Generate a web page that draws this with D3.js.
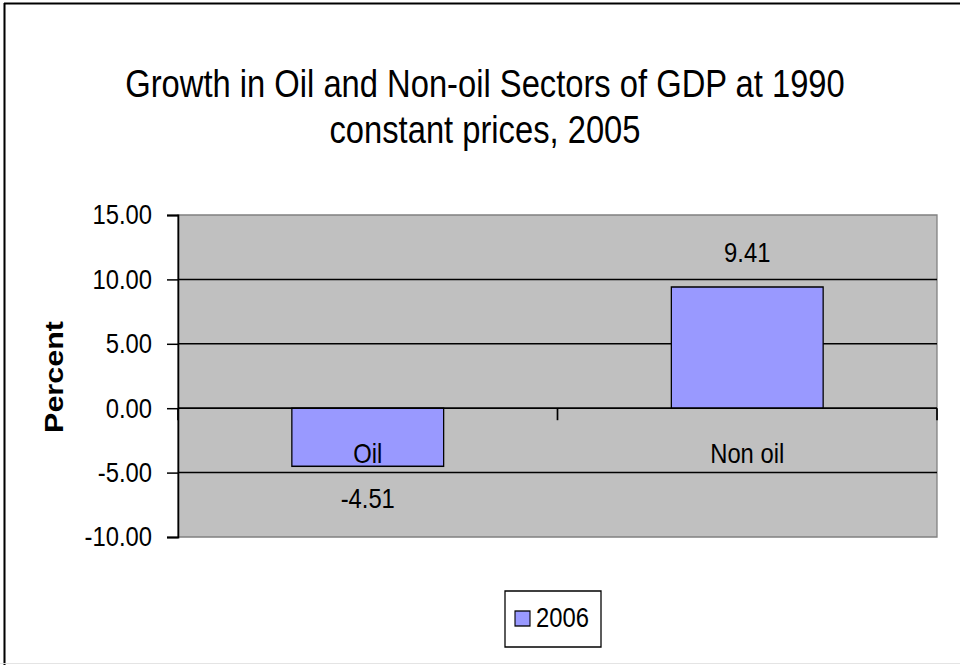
<!DOCTYPE html>
<html>
<head>
<meta charset="utf-8">
<script src="https://cdn.jsdelivr.net/npm/d3@7"></script>
<style>
  html, body { margin: 0; padding: 0; background: #fff; }
  svg { display: block; }
  text { font-family: "Liberation Sans", Arial, sans-serif; fill: #000; }
</style>
</head>
<body>
<div id="chart"></div>
<script>
// -------- Data --------
const titleLines = ["Growth in Oil and Non-oil Sectors of GDP at 1990", "constant prices, 2005"];
const categories = ["Oil", "Non oil"];
const values2006 = [-4.51, 9.41];
const seriesName = "2006";
const yTicks = [-10, -5, 0, 5, 10, 15];
const yLabel = "Percent";

// The original picture is squeezed horizontally, so draw in a wider
// coordinate space and let the viewBox squash it back to 960 px.
const K = 0.85;
const W = 960, H = 665;
const VW = W / K;
const px = x => x / K; // screen x -> viewBox x

const plot = { left: px(178), right: px(937), top: 215, bottom: 537 };

const fmt = d3.formatLocale({
  decimal: ".", thousands: ",", grouping: [3], currency: ["", ""], minus: "-"
}).format(".2f");

const svg = d3.select("#chart").append("svg")
  .attr("width", W)
  .attr("height", H)
  .attr("viewBox", `0 0 ${VW} ${H}`)
  .attr("preserveAspectRatio", "none");

// outer frame
svg.append("line").attr("x1", px(4)).attr("x2", VW).attr("y1", 3.5).attr("y2", 3.5)
  .attr("stroke", "#000").attr("stroke-width", 2);
svg.append("line").attr("x1", px(4.5)).attr("x2", px(4.5)).attr("y1", 3).attr("y2", H)
  .attr("stroke", "#000").attr("stroke-width", 2.4);
svg.append("line").attr("x1", 0).attr("x2", VW).attr("y1", 663.5).attr("y2", 663.5)
  .attr("stroke", "#e2e2e2").attr("stroke-width", 1);

// title
svg.append("g").selectAll("text")
  .data(titleLines)
  .join("text")
  .attr("x", px(485))
  .attr("y", (d, i) => 97 + i * 46)
  .attr("text-anchor", "middle")
  .attr("font-size", 38.5)
  .text(d => d);

// scales
const x = d3.scaleBand()
  .domain(categories)
  .range([plot.left, plot.right])
  .padding(0);

const y = d3.scaleLinear()
  .domain([d3.min(yTicks), d3.max(yTicks)])
  .range([plot.bottom, plot.top]);

// plot background
svg.append("rect")
  .attr("x", plot.left)
  .attr("y", plot.top)
  .attr("width", plot.right - plot.left)
  .attr("height", plot.bottom - plot.top)
  .attr("fill", "#c0c0c0")
  .attr("stroke", "#808080")
  .attr("stroke-width", 1.5);

// gridlines (interior ticks)
svg.append("g").selectAll("line")
  .data(yTicks.filter(t => t !== d3.min(yTicks) && t !== d3.max(yTicks)))
  .join("line")
  .attr("x1", plot.left)
  .attr("x2", plot.right)
  .attr("y1", d => y(d))
  .attr("y2", d => y(d))
  .attr("stroke", "#000")
  .attr("stroke-width", 1.5);

// bars
const barW = x.bandwidth() * 0.4;
svg.append("g").selectAll("rect")
  .data(categories.map((c, i) => ({ cat: c, v: values2006[i] })))
  .join("rect")
  .attr("x", d => x(d.cat) + (x.bandwidth() - barW) / 2)
  .attr("y", d => y(Math.max(0, d.v)))
  .attr("width", barW)
  .attr("height", d => Math.abs(y(d.v) - y(0)))
  .attr("fill", "#9999ff")
  .attr("stroke", "#000")
  .attr("stroke-width", 1.5);

// y axis
const yAxis = svg.append("g")
  .attr("transform", `translate(${plot.left},0)`)
  .call(d3.axisLeft(y).tickValues(yTicks).tickFormat(fmt).tickSize(px(11)).tickPadding(px(15)));
yAxis.select(".domain").attr("stroke", "#000").attr("stroke-width", 2);
yAxis.selectAll(".tick line").attr("stroke", "#000").attr("stroke-width", 1.5);
yAxis.selectAll(".tick text")
  .attr("font-family", "Liberation Sans, Arial, sans-serif")
  .attr("font-size", 28)
  .attr("fill", "#000");

// category axis along zero
svg.append("line")
  .attr("x1", plot.left).attr("x2", plot.right)
  .attr("y1", y(0)).attr("y2", y(0))
  .attr("stroke", "#000").attr("stroke-width", 1.5);

const boundaries = categories.map(c => x(c)).concat([x(categories[categories.length - 1]) + x.bandwidth()]);
svg.append("g").selectAll("line")
  .data(boundaries)
  .join("line")
  .attr("x1", d => d).attr("x2", d => d)
  .attr("y1", y(0)).attr("y2", y(0) + 12)
  .attr("stroke", "#000").attr("stroke-width", 2);

svg.append("g").selectAll("text")
  .data(categories)
  .join("text")
  .attr("x", d => x(d) + x.bandwidth() / 2)
  .attr("y", y(0) + 55)
  .attr("text-anchor", "middle")
  .attr("font-size", 28)
  .text(d => d);

// data labels
svg.append("g").selectAll("text")
  .data(categories.map((c, i) => ({ cat: c, v: values2006[i] })))
  .join("text")
  .attr("x", d => x(d.cat) + x.bandwidth() / 2)
  .attr("y", d => d.v >= 0 ? y(d.v) - 25 : y(d.v) + 42)
  .attr("text-anchor", "middle")
  .attr("font-size", 28)
  .text(d => fmt(d.v));

// y axis title
svg.append("text")
  .attr("transform", `translate(${px(63)},${377}) rotate(-90)`)
  .attr("text-anchor", "middle")
  .attr("font-size", 30.5)
  .attr("font-weight", "bold")
  .text(yLabel);

// legend
const lg = svg.append("g");
lg.append("rect")
  .attr("x", px(505)).attr("y", 591)
  .attr("width", px(601) - px(505)).attr("height", 56)
  .attr("fill", "#fff").attr("stroke", "#000").attr("stroke-width", 1.5);
lg.append("rect")
  .attr("x", px(515)).attr("y", 611)
  .attr("width", px(530) - px(515)).attr("height", 15)
  .attr("fill", "#9999ff").attr("stroke", "#000").attr("stroke-width", 1.3);
lg.append("text")
  .attr("x", px(536)).attr("y", 627)
  .attr("font-size", 28)
  .text(seriesName);
</script>
</body>
</html>
